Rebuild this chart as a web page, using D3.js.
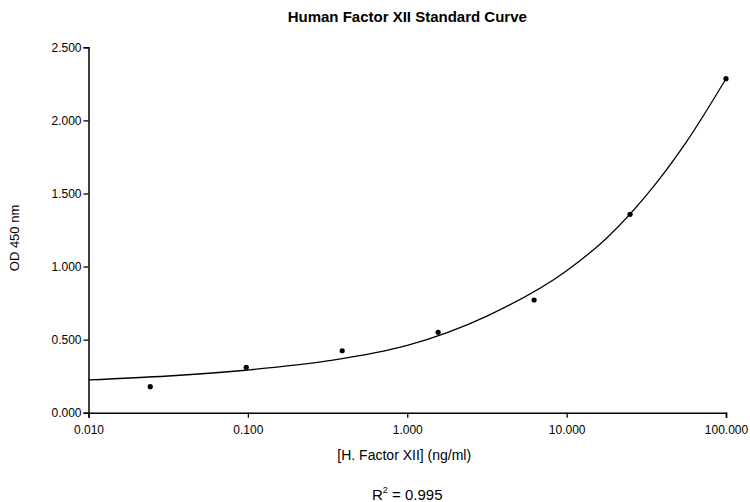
<!DOCTYPE html>
<html><head><meta charset="utf-8">
<script src="https://cdn.jsdelivr.net/npm/d3@7"></script>
<style>body{margin:0;background:#fff}svg{display:block}text{font-family:"Liberation Sans",Arial,sans-serif;fill:#000}</style>
</head><body>
<svg id="c" width="750" height="502"></svg>
<script>
const concentrations = [0.0244, 0.0977, 0.3906, 1.5625, 6.25, 25, 100];
const odValues = [0.178, 0.311, 0.424, 0.550, 0.771, 1.357, 2.285];
const fitX = [0.01, 0.0316, 0.1, 0.316, 1, 3.16, 10, 17.8, 31.6, 56.2, 100];
const fitY = [0.224, 0.251, 0.292, 0.354, 0.46, 0.661, 0.971, 1.194, 1.487, 1.85, 2.285];
const xTicks = [0.01, 0.1, 1, 10, 100];
const yTicks = [0, 0.5, 1, 1.5, 2, 2.5];
const title = "Human Factor XII Standard Curve";
const xLabel = "[H. Factor XII] (ng/ml)";
const yLabel = "OD 450 nm";
const r2 = "0.995";

const svg = d3.select("#c");
const L = 88.5, R = 726, T = 47.3, B = 412.7;
const x = d3.scaleLog().domain([0.01, 100]).range([L, R]);
const y = d3.scaleLinear().domain([0, 2.5]).range([B, T]);

const fmt = d3.format(".3f");
const xa = svg.append("g").attr("transform", `translate(0,${B})`)
  .call(d3.axisBottom(x).tickValues(xTicks).tickFormat(fmt).tickSizeOuter(0).tickSize(5).tickPadding(8));
const ya = svg.append("g").attr("transform", `translate(${L},0)`)
  .call(d3.axisLeft(y).tickValues(yTicks).tickFormat(fmt).tickSizeOuter(0).tickSize(5).tickPadding(2));
[xa, ya].forEach(a => {
  a.select(".domain").attr("stroke", "#000").attr("stroke-width", 1.5);
  a.selectAll(".tick line").attr("stroke", "#000").attr("stroke-width", 1.3);
  a.selectAll(".tick text").attr("font-size", 12).attr("font-family", "Liberation Sans, Arial, sans-serif").attr("fill", "#000");
});

const line = d3.line().x((d, i) => x(fitX[i])).y(d => y(d)).curve(d3.curveMonotoneX);
svg.append("path").attr("d", line(fitY)).attr("fill", "none").attr("stroke", "#000").attr("stroke-width", 1.3);

svg.append("g").selectAll("circle").data(odValues).join("circle")
  .attr("cx", (d, i) => x(concentrations[i])).attr("cy", d => y(d)).attr("r", 2.6).attr("fill", "#000");

svg.append("text").attr("x", (L + R) / 2).attr("y", 22).attr("text-anchor", "middle")
  .attr("font-size", 15).attr("font-weight", "bold").text(title);
svg.append("text").attr("x", (L + R) / 2 - 3).attr("y", 460).attr("text-anchor", "middle")
  .attr("font-size", 14).text(xLabel);
svg.append("text").attr("transform", "translate(19,238) rotate(-90)").attr("text-anchor", "middle")
  .attr("font-size", 13).text(yLabel);
const rt = svg.append("text").attr("x", (L + R) / 2).attr("y", 500).attr("text-anchor", "middle").attr("font-size", 15);
rt.append("tspan").text("R");
rt.append("tspan").attr("font-size", 9).attr("dy", -7).text("2");
rt.append("tspan").attr("dy", 7).text(" = " + r2);
</script>
</body></html>
